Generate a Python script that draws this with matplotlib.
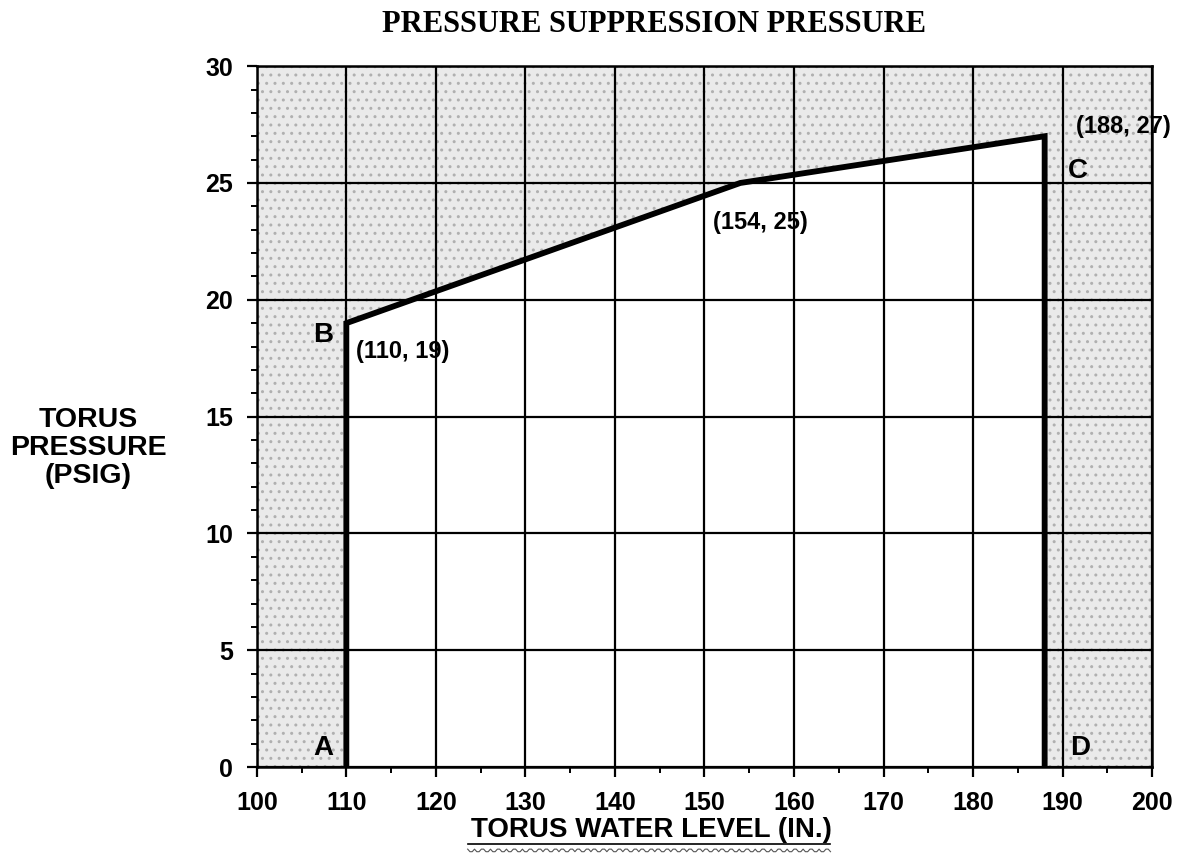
import numpy as np
import matplotlib
matplotlib.use("Agg")
import matplotlib.pyplot as plt
from matplotlib.ticker import MultipleLocator

# limit curve (torus water level in., torus pressure psig)
level = [110, 110, 154, 188, 188]
pressure = [0, 19, 25, 27, 0]

x_ticks = [100, 110, 120, 130, 140, 150, 160, 170, 180, 190, 200]
y_ticks = [0, 5, 10, 15, 20, 25, 30]

# point labels: text, x, y
point_labels = [("(110, 19)", 116.3, 17.8), ("(154, 25)", 156.2, 23.3), ("(188, 27)", 196.8, 27.4)]
corner_labels = [("A", 107.4, 0.8), ("B", 107.4, 18.5), ("C", 191.7, 25.5), ("D", 192.0, 0.8)]

plt.rcParams['font.family'] = ['Liberation Sans', 'DejaVu Sans']

fig = plt.figure(figsize=(11.78, 8.59), dpi=100)
ax = fig.add_axes([0.218, 0.107, 0.760, 0.816])

ax.set_xlim(100, 200)
ax.set_ylim(0, 30)

# stippled region = everything outside the safe area
ax.fill_between([100, 200], 0, 30, facecolor="#eaeaea", edgecolor="#b0b0b0", hatch="..", linewidth=0, zorder=0)
ax.fill(level, pressure, facecolor="white", edgecolor="none", zorder=1)

ax.plot(level, pressure, color="black", linewidth=4.2, solid_joinstyle="miter", zorder=4)

ax.set_xticks(x_ticks)
ax.set_yticks(y_ticks)
ax.xaxis.set_minor_locator(MultipleLocator(5))
ax.yaxis.set_minor_locator(MultipleLocator(1))
ax.set_axisbelow(False)
ax.grid(which="major", color="black", linewidth=1.6, zorder=2)
ax.tick_params(which="major", direction="out", length=7, width=1.6, pad=10, labelsize=18)
ax.tick_params(which="minor", direction="out", length=4, width=1.4)
for lab in ax.get_xticklabels() + ax.get_yticklabels():
    lab.set_fontweight("bold")
for sp in ax.spines.values():
    sp.set_linewidth(1.8)

for txt, x, y in point_labels:
    ax.text(x, y, txt, ha="center", va="center", fontsize=17, fontweight="bold", zorder=5)
for txt, x, y in corner_labels:
    ax.text(x, y, txt, ha="center", va="center", fontsize=20, fontweight="bold", zorder=5)

fig.text(0.555, 0.972, "PRESSURE SUPPRESSION PRESSURE", ha="center", va="center",
         fontsize=22, fontweight="bold", family=["Liberation Serif", "DejaVu Serif"])
fig.text(0.075, 0.478, "TORUS\nPRESSURE\n(PSIG)", ha="center", va="center",
         fontsize=20.5, fontweight="bold", linespacing=1.1)
fig.text(0.553, 0.034, "TORUS WATER LEVEL (IN.)", ha="center", va="center",
         fontsize=20, fontweight="bold")

# underline and spell-check squiggle under the x label
fig.add_artist(plt.Line2D([0.397, 0.705], [0.017, 0.017], color="black", linewidth=1.2))
sx = np.linspace(0.397, 0.705, 160)
sy = 0.010 + 0.0015 * np.sign(np.sin(sx * 2 * np.pi / 0.0068))
fig.add_artist(plt.Line2D(sx, sy, color="#555555", linewidth=0.8))

fig.savefig("out.png", dpi=100)
